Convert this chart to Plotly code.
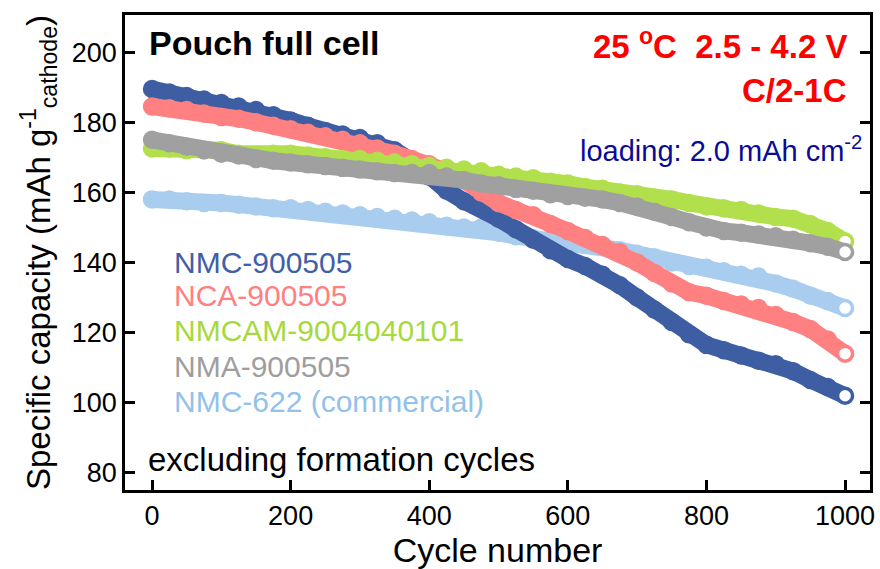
import plotly.graph_objects as go

cycles = [0, 25, 50, 75, 100, 125, 150, 175, 200, 225, 250, 275, 300, 325, 350, 375, 400,
          425, 450, 475, 500, 525, 550, 575, 600, 625, 650, 675, 700, 725, 750, 775, 800,
          825, 850, 875, 900, 925, 950, 975, 1000]

nmc_900505 = [189.5, 188.5, 187.5, 186.5, 185.5, 184.5, 183.5, 182, 180.5, 179, 177.5, 176.5,
              175.5, 174, 172, 169, 164.5, 160.5, 157.5, 155.5, 152.5, 149.5, 146.5, 143.5,
              141, 139, 136.5, 133.5, 130, 126.5, 123, 119.5, 116.5, 115, 113.5, 112, 111,
              109, 106.5, 104.5, 102]
nca_900505 = [184.5, 184, 183.5, 182.5, 181.5, 181, 180, 179, 178, 177, 176, 175, 174, 172.5,
              171, 169.5, 168, 166, 163.5, 160, 157, 155, 153.5, 151, 149, 147, 145, 143, 140,
              137, 134, 131.5, 130.5, 129, 128, 127, 125, 123, 121, 118, 114]
nmcam_9004040101 = [172.5, 172.5, 172, 172, 172, 171, 170.5, 171, 171, 170.5, 170, 169.5, 169.5,
                    169, 168.5, 168, 167.5, 167, 166.5, 166, 165, 164.5, 164, 163, 162.5, 161.5,
                    161, 160, 159.5, 158.5, 158, 157, 156, 155.5, 155, 154, 153, 152.5, 151,
                    149, 146]
nma_900505 = [175, 174, 173, 172, 171, 170.5, 169.5, 169, 168.5, 168, 167.5, 167, 166.5, 166,
              165.5, 165.5, 165.5, 164.5, 163.5, 162.5, 162, 161, 160.5, 159.5, 159, 158.5, 158,
              157, 156, 154.5, 153, 151.5, 150, 149, 148.5, 148, 147.5, 146.5, 145.5, 144.5, 143]
nmc_622 = [158, 158, 157.5, 157, 157, 156.5, 156, 155.5, 155.5, 155, 154.5, 154, 153.5, 153,
           152.5, 152, 151.5, 150.5, 150, 150, 148.5, 147.5, 147, 146.5, 146, 145, 144.5, 143.5,
           142.5, 141.5, 140, 139, 138.5, 137.5, 136.5, 136, 134, 132.5, 130.5, 129, 127]

series_names = ["NMC-900505", "NCA-900505", "NMCAM-9004040101", "NMA-900505", "NMC-622 (commercial)"]
series_values = [nmc_900505, nca_900505, nmcam_9004040101, nma_900505, nmc_622]
marker_colors = ["#3E5EA3", "#FF8080", "#B2E04C", "#A0A0A0", "#A9CDEE"]
label_colors = ["#3F5FA8", "#FF8080", "#A6DA3C", "#9E9E9E", "#92C2EA"]

draw_order = [4, 0, 1, 2, 3]

FONT = "Liberation Sans, Arial, sans-serif"

fig = go.Figure()
for i in draw_order:
    vals = series_values[i]
    c = marker_colors[i]
    n = len(vals)
    fig.add_trace(go.Scatter(
        x=cycles, y=vals, mode="lines+markers", name=series_names[i],
        line=dict(color=c, width=17),
        marker=dict(symbol="circle", size=15,
                    color=[c] * (n - 1) + ["white"],
                    line=dict(color=c, width=3.5)),
        showlegend=False,
    ))

L, R, T, B = 125, 10, 15, 79
W, H = 880, 569
pw, ph = W - L - R, H - T - B


def px(x):
    return (x - L) / pw


def py(y):
    return (H - B - y) / ph


annotations = []
annotations.append(dict(x=px(147), y=py(43), xref="paper", yref="paper", text="<b>Pouch full cell</b>",
                        showarrow=False, xanchor="left", yanchor="middle",
                        font=dict(family=FONT, size=34, color="black")))
annotations.append(dict(x=px(849), y=py(44), xref="paper", yref="paper",
                        text="<b>25 <sup>o</sup>C\u00a0\u00a02.5 - 4.2 V</b>",
                        showarrow=False, xanchor="right", yanchor="middle",
                        font=dict(family=FONT, size=33, color="#FF0000")))
annotations.append(dict(x=px(849), y=py(90), xref="paper", yref="paper", text="<b>C/2-1C</b>",
                        showarrow=False, xanchor="right", yanchor="middle",
                        font=dict(family=FONT, size=33, color="#FF0000")))
annotations.append(dict(x=px(864), y=py(149), xref="paper", yref="paper",
                        text="loading: 2.0 mAh cm<sup>-2</sup>",
                        showarrow=False, xanchor="right", yanchor="middle",
                        font=dict(family=FONT, size=29, color="#0A0A96")))
label_y = [262, 296, 331, 366, 401]
for name, col, yy in zip(series_names, label_colors, label_y):
    annotations.append(dict(x=px(173), y=py(yy), xref="paper", yref="paper", text=name,
                            showarrow=False, xanchor="left", yanchor="middle", borderpad=0,
                            font=dict(family=FONT, size=30, color=col)))
annotations.append(dict(x=px(146), y=py(459), xref="paper", yref="paper",
                        text="excluding formation cycles",
                        showarrow=False, xanchor="left", yanchor="middle",
                        font=dict(family=FONT, size=33, color="black")))

fig.update_layout(
    width=W, height=H,
    margin=dict(l=L, r=R, t=T, b=B, pad=0),
    paper_bgcolor="white", plot_bgcolor="white",
    font=dict(family=FONT, color="black"),
    annotations=annotations,
    xaxis=dict(
        range=[-39, 1036], tickvals=[0, 200, 400, 600, 800, 1000],
        showgrid=False, zeroline=False,
        showline=True, linecolor="black", linewidth=2.5, mirror=True,
        ticks="inside", ticklen=10, tickwidth=2.5, tickcolor="black",
        tickfont=dict(family=FONT, size=27, color="black"),
        title=dict(text="Cycle number", font=dict(family=FONT, size=34, color="black"), standoff=7),
        automargin=False,
    ),
    yaxis=dict(
        range=[75.1, 210.6], tickvals=[80, 100, 120, 140, 160, 180, 200],
        showgrid=False, zeroline=False,
        showline=True, linecolor="black", linewidth=2.5, mirror="ticks",
        ticks="inside", ticklen=10, tickwidth=2.5, tickcolor="black",
        tickfont=dict(family=FONT, size=27, color="black"),
        title=dict(text="Specific capacity (mAh g<sup>-1</sup><sub>cathode</sub>)",
                   font=dict(family=FONT, size=33, color="black"), standoff=12),
        automargin=False,
    ),
)

fig.write_html("out.html")
